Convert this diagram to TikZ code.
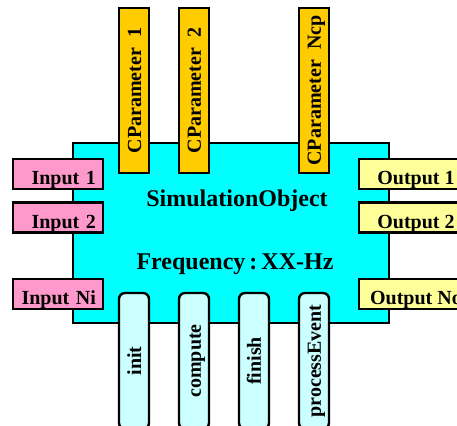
\documentclass[tikz,border=0pt]{standalone}
\usepackage{fontspec}
\setmainfont{Liberation Serif}
\usepackage{xcolor}
\definecolor{Ink}{HTML}{000000}
\definecolor{ObjCyan}{HTML}{00FFFF}
\definecolor{InPink}{HTML}{FF99CC}
\definecolor{OutYellow}{HTML}{FFFF99}
\definecolor{ParGold}{HTML}{FFCC00}
\definecolor{MethCyan}{HTML}{CCFFFF}

\begin{document}
\begin{tikzpicture}[x=0.5pt,y=-0.5pt,
  box/.style={draw=Ink,line width=1.2pt,font=\bfseries,inner ysep=0pt,text height=10.6pt,text depth=0pt},
  inbox/.style={box,fill=InPink,minimum width=45pt,minimum height=15pt,text width=38pt,inner xsep=3.5pt,align=right},
  outbox/.style={box,fill=OutYellow,minimum width=57pt,minimum height=15pt},
  parbox/.style={box,fill=ParGold,rotate=90,minimum width=82.5pt,minimum height=15pt,text height=7pt},
  methbox/.style={box,fill=MethCyan,rotate=90,minimum width=68pt,minimum height=15pt,text height=7pt,rounded corners=3pt},
  objtext/.style={font=\bfseries\fontsize{12}{14}\selectfont,inner sep=0pt,text height=8pt,text depth=0pt}]
\useasboundingbox (0,0) rectangle (457,426);
\clip (0,0) rectangle (457,426);
% object body
\node[draw=Ink,line width=1.2pt,fill=ObjCyan,minimum width=158pt,minimum height=90pt,inner sep=0pt] (sim) at (231,233) {};
\node[objtext] (simname) at (237,198.5) {SimulationObject};
\node[objtext] (simfreq) at (235,261.5) {Frequency\,:\,XX-Hz};
% parameters
\node[parbox] (par1) at (134,90.5) {CParameter\ \ 1};
\node[parbox] (par2) at (194,90.5) {CParameter\ \ 2};
\node[parbox] (parn) at (314,90.5) {CParameter\ \ Ncp};
% inputs
\node[inbox] (in1) at (58,174) {Input 1};
\node[inbox] (in2) at (58,217.5) {Input 2};
\node[inbox] (inn) at (58,294) {Input Ni};
% outputs
\node[outbox] (out1) at (416,174) {Output 1};
\node[outbox] (out2) at (416,217.5) {Output 2};
\node[outbox] (outn) at (416,294) {Output No};
% methods
\node[methbox] (init) at (134,361) {init};
\node[methbox] (compute) at (194,361) {compute};
\node[methbox] (finish) at (254,361) {finish};
\node[methbox] (procev) at (314,361) {processEvent};
\end{tikzpicture}
\end{document}
